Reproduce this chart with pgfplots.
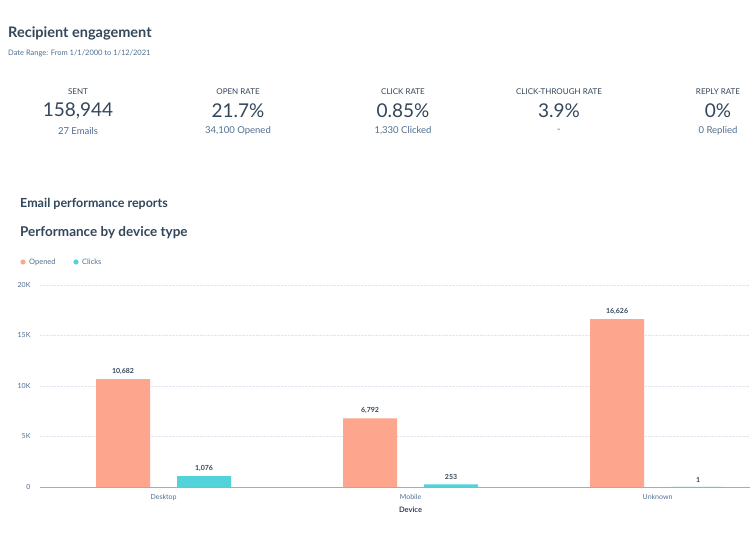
\documentclass[border=0pt]{standalone}
\usepackage{fontspec}
\setmainfont{Lato}
\usepackage{pgfplots}
\pgfplotsset{compat=1.18}
\definecolor{slate}{HTML}{33475B}
\definecolor{subgray}{HTML}{516F90}
\definecolor{opened}{HTML}{FDA58D}
\definecolor{clicks}{HTML}{51D3D9}
\definecolor{gridc}{HTML}{E6E3F0}
\definecolor{axisc}{HTML}{99AFC4}

\begin{document}
\begin{tikzpicture}[x=1pt,y=1pt]
  % page in pixel units, y measured up from the bottom (539 - pixel row)
  \fill[white] (0,0) rectangle (750,539);
  \useasboundingbox (0,0) rectangle (750,539);

  % header
  \node[anchor=west, text=slate, font=\fontsize{14.5}{16}\selectfont\bfseries, inner sep=0] at (8,506) {Recipient engagement};
  \node[anchor=west, text=subgray, font=\fontsize{7.5}{9}\selectfont, inner sep=0] at (8,486) {Date Range: From 1/1/2000 to 1/12/2021};

  % summary figures
  \foreach \cx/\lab/\val/\sub in {78/SENT/{158,944}/27 Emails,
                                 238/OPEN RATE/21.7\%/{34,100 Opened},
                                 403/CLICK RATE/0.85\%/{1,330 Clicked},
                                 559/CLICK-THROUGH RATE/3.9\%/-,
                                 718/REPLY RATE/0\%/0 Replied} {
    \node[text=slate, font=\fontsize{8}{9}\selectfont, inner sep=0] at (\cx,447) {\lab};
    \node[text=slate, font=\fontsize{19}{21}\selectfont, inner sep=0] at (\cx,428) {\val};
    \node[text=subgray, font=\fontsize{9.5}{11}\selectfont, inner sep=0] at (\cx,408) {\sub};
  }

  \node[anchor=west, text=slate, font=\fontsize{12.5}{14}\selectfont\bfseries, inner sep=0] at (20,335) {Email performance reports};
  \node[anchor=west, text=slate, font=\fontsize{13.5}{15}\selectfont\bfseries, inner sep=0] at (20,306) {Performance by device type};

  % legend
  \fill[opened] (23,277) circle (2.6);
  \node[anchor=west, text=subgray, font=\fontsize{7.5}{9}\selectfont, inner sep=0] at (29,277) {Opened};
  \fill[clicks] (76,277) circle (2.6);
  \node[anchor=west, text=subgray, font=\fontsize{7.5}{9}\selectfont, inner sep=0] at (82,277) {Clicks};

  \begin{axis}[
      at={(163.5pt,52pt)}, anchor=origin,
      scale only axis,
      width=710pt, height=202pt,
      xmin=-0.5, xmax=2.374,
      ymin=0, ymax=20000,
      axis x line=bottom, axis y line=left,
      x axis line style={axisc, line width=0.8pt, -},
      y axis line style={draw=none},
      xtick={0,1,2},
      xticklabels={Desktop,Mobile,Unknown},
      ytick={0,5000,10000,15000,20000},
      yticklabels={0,5K,10K,15K,20K},
      scaled y ticks=false,
      major tick length=0pt,
      xticklabel style={text=subgray, font=\fontsize{7}{8}\selectfont, yshift=-4pt},
      yticklabel style={text=subgray, font=\fontsize{7}{8}\selectfont, xshift=-6pt},
      ymajorgrids=true,
      grid style={gridc, densely dotted, line width=0.6pt},
      ybar, bar width=54pt,
      nodes near coords,
      every node near coord/.append style={text=slate, font=\fontsize{7}{8}\selectfont\bfseries, yshift=1pt,
        /pgf/number format/assume math mode=true, /pgf/number format/1000 sep={,}},
      clip=false,
    ]
    \addplot[fill=opened, draw=none, bar shift=-40.5pt] coordinates {(0,10682) (1,6792) (2,16626)};
    \addplot[fill=clicks, draw=none, bar shift=40.5pt] coordinates {(0,1076) (1,253) (2,1)};
    % axis title sits under the middle category, as in the dashboard
    \node[text=slate, font=\fontsize{7.5}{9}\selectfont\bfseries, inner sep=0] at (axis cs:1,0) [yshift=-23pt] {Device};
  \end{axis}
\end{tikzpicture}
\end{document}
